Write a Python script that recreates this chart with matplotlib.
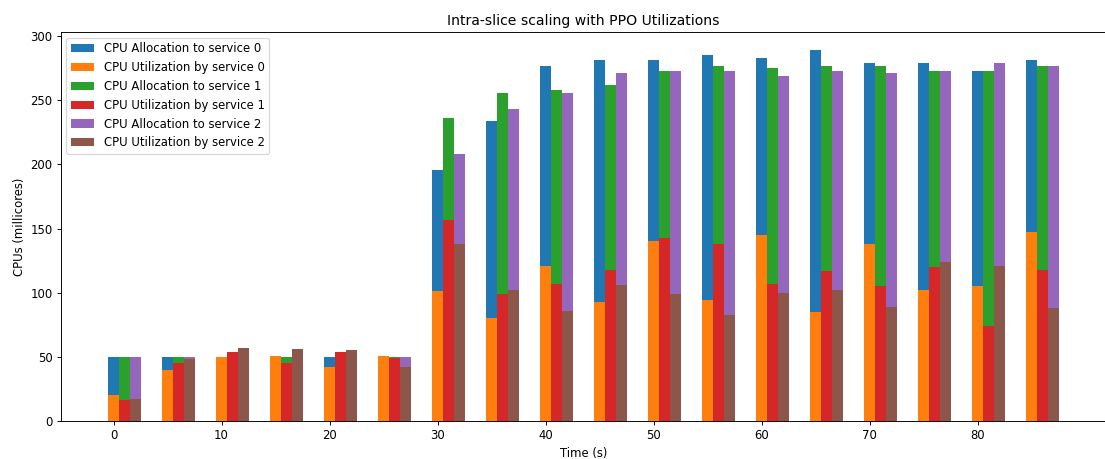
import numpy as np
import matplotlib
matplotlib.use('Agg')
import matplotlib.pyplot as plt

# Time steps (s)
times = np.arange(0, 90, 5)

# CPU allocation / utilization per service (millicores)
alloc_0 = [50, 50, 50, 50, 50, 50, 196, 234, 277, 281, 281, 285, 283, 289, 279, 279, 273, 281]
util_0 = [20, 40, 50, 51, 42, 51, 101, 80, 121, 93, 140, 94, 145, 85, 138, 102, 105, 147]
alloc_1 = [50, 50, 50, 50, 50, 50, 236, 256, 258, 262, 273, 277, 275, 277, 277, 273, 273, 277]
util_1 = [16, 45, 54, 45, 54, 49, 157, 99, 107, 118, 143, 138, 107, 117, 105, 120, 74, 118]
alloc_2 = [50, 50, 50, 50, 50, 50, 208, 243, 256, 271, 273, 273, 269, 273, 271, 273, 279, 277]
util_2 = [17, 48, 57, 56, 55, 42, 138, 102, 86, 106, 99, 83, 100, 102, 89, 124, 121, 88]

width = 1

fig = plt.figure(figsize=(1105 / 84, 459 / 84), dpi=84)
# right spine falls just past the image edge, as in the reference
ax = fig.add_axes([0.0549, 0.0828, 0.9461, 0.8482])

ax.bar(times, alloc_0, width, color='tab:blue', label='CPU Allocation to service 0')
ax.bar(times, util_0, width, color='tab:orange', label='CPU Utilization by service 0')
ax.bar(times + width, alloc_1, width, color='tab:green', label='CPU Allocation to service 1')
ax.bar(times + width, util_1, width, color='tab:red', label='CPU Utilization by service 1')
ax.bar(times + 2 * width, alloc_2, width, color='tab:purple', label='CPU Allocation to service 2')
ax.bar(times + 2 * width, util_2, width, color='tab:brown', label='CPU Utilization by service 2')

ax.set_xticks(np.arange(0, 90, 10))
ax.set_title('Intra-slice scaling with PPO Utilizations')
ax.set_xlabel('Time (s)')
ax.set_ylabel('CPUs (millicores)')
ax.legend(loc='upper left')

fig.savefig('out.png', dpi=84)
